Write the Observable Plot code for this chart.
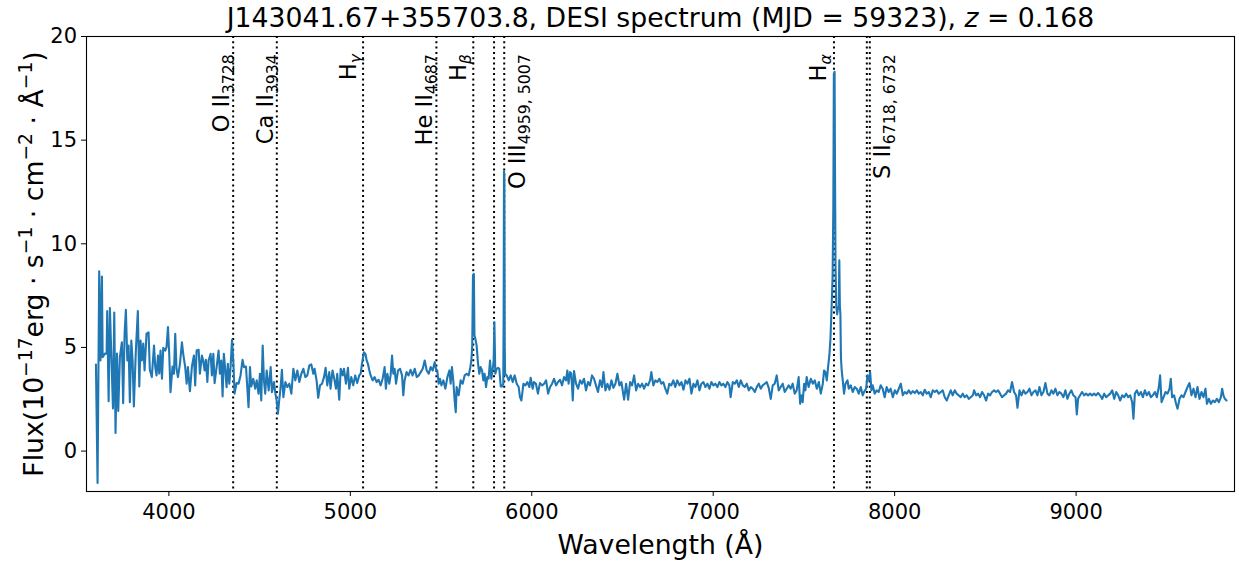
<!DOCTYPE html>
<html>
<head>
<meta charset="utf-8">
<script src="https://cdn.jsdelivr.net/npm/d3@7"></script>
<script src="https://cdn.jsdelivr.net/npm/@observablehq/plot@0.6"></script>
<style>
  html, body { margin: 0; padding: 0; background: #fff; }
  #chart { width: 1239px; height: 563px; }
</style>
</head>
<body>
<div id="chart"></div>
<script>
// ---------------- data ----------------
const wave = [
3598,3607,3616,3623,3631,3635,3647,3657,3660,3668,3675,3682,3692,3699,3706,3714,3721,3730,3741,3748,
3756,3763,3771,3778,3785,3793,3800,3807,3818,3829,3837,3844,3851,3859,3866,3877,3888,3895,3906,3918,
3925,3932,3940,3947,3954,3962,3969,3980,3987,3995,4002,4009,4020,4028,4035,4042,4050,4061,4072,4079,
4090,4098,4105,4116,4127,4138,4145,4153,4164,4171,4182,4189,4197,4204,4212,4219,4230,4237,4245,4252,
4263,4274,4281,4289,4296,4303,4311,4318,4325,4333,4340,4348,4355,4362,4373,4384,4395,4406,4414,4425,
4432,4439,4447,4454,4465,4476,4484,4494,4502,4509,4517,4524,4531,4539,4550,4561,4568,4579,4586,4594,
4601,4608,4616,4623,4631,4642,
4653,4664,4675,4686,4697,4708,4719,4730,4741,4752,4763,4774,4785,4796,4803,4814,4823,4833,4844,4855,
4864,4873,4884,4891,4902,4913,4921,4928,4939,4947,4958,4965,4976,4987,4994,5005,5016,5027,5038,5049,
5057,5064,5075,5084,5090,5097,5105,5112,5123,5134,5145,5156,5167,5178,5189,5196,5204,5215,5222,5230,
5237,5244,5252,5263,5274,5285,5292,5299,5310,5321,5332,5343,5355,5366,5377,5388,5399,5410,5421,5432,
5443,5454,5465,5472,5479,5487,5494,5502,5513,5524,5535,5546,5553,5560,5568,5575,5581,5586,5597,5608,
5619,5630,5641,5652,5660,5667,5672,5676,5681,5684,5689,5696,5704,5711,5718,5726,5733,5740,5748,5755,
5762,5770,5777,5784,5790,5794,5799,5807,5814,5821,5829,5836,5843,5845,5847,5849,5851,5853,5862,5873,
5884,5895,5906,5917,5928,5935,
5943,5954,5965,5976,5987,5994,6005,6012,6023,6034,6045,6057,6068,6079,6090,6101,6112,6123,6134,6145,
6156,6167,6178,6189,6196,6203,6211,6218,6226,6233,6244,6255,6266,6277,6288,6299,6310,6321,6332,6343,
6354,6365,6376,6387,6395,6406,6417,6428,6439,6450,6461,6472,6483,6494,6509,6520,6531,6542,6553,6564,
6575,6586,6597,6608,6619,6630,6641,6652,6659,6670,6681,6692,6703,6714,6725,6736,6747,6758,6769,6780,
6791,6802,6814,6825,6836,6847,6858,6869,6880,6891,6902,6913,6924,6935,6946,6957,6968,6979,6990,7001,
7012,7023,7034,7045,7056,7067,7078,7089,7096,7108,7119,7130,7141,7152,7163,7174,7185,7196,7207,7218,
7229,7240,7251,7262,7273,7284,7295,7306,7317,7328,7339,7350,7361,7372,7383,7394,7405,7416,7427,7438,
7449,7460,7471,7479,7486,7493,7501,7508,7515,7526,7538,7549,7560,7571,7582,7593,7604,
7611,7618,7626,7633,7640,7646,7652,7658,7662,7665,7669,7671,7674,7678,7683,7688,7692,7695,7698,7701,
7704,7708,
7714,7721,7729,7740,7747,7758,7769,7780,7791,7802,7813,7824,7831,7843,7850,7857,7865,7872,7879,7890,
7901,7912,7923,7934,7945,7956,7967,7978,7990,8001,8012,8023,8034,8045,8056,8067,8078,8089,8100,8111,
8122,8133,8144,8155,8166,8177,8188,8199,8210,8221,8232,8243,8254,8265,8276,8287,8298,8309,8320,8331,
8342,8353,8364,8375,8386,8397,8408,8419,8431,8438,8449,8460,8471,8482,8493,8504,8515,8526,8537,8548,
8559,8570,8581,8592,8603,8614,8625,8636,8647,8658,8669,8677,8688,8699,8710,8721,8732,8743,8754,8765,
8776,8787,8798,8809,8820,8831,8842,8853,8864,8875,8886,8897,8908,8919,8930,8941,8952,8963,8974,8985,
8997,9004,9011,9022,9033,9044,9055,9066,9077,9088,9099,9110,9121,9132,9144,9155,9166,9177,9188,9199,
9210,9221,9232,9243,9254,9265,9276,9287,9298,9309,9316,9324,9335,9346,9357,9368,9379,9390,9401,9412,
9423,9434,9445,9456,9463,9471,9482,9493,9504,9515,9522,9529,9540,9551,9559,9570,9581,9592,9603,9614,
9625,9636,9647,9658,9669,9680,9691,9702,9713,9721,9732,9743,9754,9765,9776,9787,9798,9805,9812,9820,
9829
];
const flux = [
4.18,-1.54,8.67,4.37,8.42,4.53,4.70,4.70,6.75,2.41,6.90,4.85,2.06,6.68,0.87,4.70,1.93,4.53,5.25,2.31,
5.67,6.81,4.37,5.09,2.36,5.33,4.37,2.15,4.85,6.75,3.12,5.33,4.37,5.19,3.89,5.67,5.73,3.93,3.57,5.09,
4.05,3.65,4.61,3.74,4.85,3.49,4.98,4.85,5.01,5.98,4.66,2.84,4.08,3.73,5.66,3.97,3.57,4.21,5.25,4.69,
4.05,3.25,4.05,2.89,4.08,4.61,3.17,4.85,4.89,3.73,4.61,4.37,3.89,4.40,3.33,4.37,4.69,3.65,4.69,3.28,
4.05,4.85,3.73,4.37,2.64,4.69,3.89,3.08,4.21,3.25,4.05,5.37,4.37,2.77,3.28,3.25,3.65,4.40,4.05,4.08,
3.08,2.12,4.05,3.12,3.49,3.01,3.41,2.77,3.73,2.44,5.09,3.41,2.77,3.89,2.93,4.05,2.84,3.33,2.84,2.44,
1.80,2.44,3.08,3.92,2.60,3.33,
3.09,3.25,2.77,3.97,3.41,3.89,3.33,3.73,3.97,3.57,3.65,4.13,4.18,3.73,3.97,3.41,2.57,3.17,3.25,3.57,
4.02,3.17,3.81,3.01,3.89,3.41,3.01,3.73,2.48,3.97,3.65,3.97,3.25,4.02,3.01,3.57,3.17,3.65,3.28,3.65,
3.73,4.21,4.77,4.66,4.37,4.21,3.89,3.65,3.41,3.57,3.33,3.44,3.17,3.49,4.05,3.01,3.73,3.25,3.65,4.61,
3.73,3.97,3.25,3.89,3.97,3.65,2.69,3.41,3.81,3.65,3.92,3.65,3.97,3.57,3.65,3.81,3.97,4.37,3.89,3.73,
4.05,3.89,4.29,3.97,3.89,3.25,3.49,3.17,3.41,3.01,3.57,3.89,3.25,4.05,3.33,2.44,1.88,3.09,2.69,3.41,
3.25,3.65,3.73,3.65,3.97,4.37,5.10,8.47,8.55,5.60,5.42,5.10,4.21,3.73,4.05,3.89,3.41,3.73,3.09,3.57,
3.49,4.37,3.49,3.89,4.37,6.22,3.73,3.97,4.02,3.97,3.12,3.12,3.25,6.50,13.50,13.30,5.00,3.73,3.65,3.41,
3.65,3.33,3.65,3.25,3.09,2.60,
2.44,3.25,3.17,3.33,3.09,3.54,3.01,3.33,3.25,2.77,3.28,3.17,3.25,3.41,2.77,3.09,3.25,3.49,3.17,3.33,
3.44,3.17,3.57,3.41,3.89,3.25,3.81,3.73,2.44,3.86,3.25,3.01,3.41,3.25,3.49,2.93,3.33,3.17,3.65,3.49,
3.17,2.85,3.41,3.09,3.81,2.93,3.25,2.96,3.41,3.05,3.25,3.73,3.17,3.33,2.48,3.25,2.48,3.33,3.17,3.65,
2.93,3.25,3.09,3.25,3.01,3.25,3.17,3.41,3.81,3.17,3.41,3.33,3.49,3.25,3.33,3.01,2.77,3.25,3.17,3.41,
3.09,3.41,3.17,3.33,2.96,3.41,3.25,3.49,2.77,3.25,3.09,3.41,2.93,3.25,3.33,3.09,3.25,3.01,3.33,3.17,
3.25,3.09,3.33,3.17,3.25,3.09,3.33,3.17,2.60,3.33,3.25,3.41,3.09,3.41,3.17,3.09,3.25,2.93,3.09,3.01,
2.85,3.09,3.25,3.01,3.17,3.25,3.33,3.05,2.52,3.17,3.25,3.65,2.93,3.09,3.25,2.85,3.01,3.17,3.01,3.25,
2.77,2.93,3.57,2.28,2.69,2.36,3.25,2.93,3.57,3.09,3.49,3.25,3.41,3.01,3.33,2.77,3.25,
3.89,3.81,3.41,4.05,4.60,5.40,6.80,8.40,11.80,18.20,18.30,14.00,9.00,7.00,6.60,6.90,7.00,9.20,7.00,6.60,
4.50,3.90,
3.41,2.77,3.25,3.41,3.01,3.17,2.85,3.09,3.01,2.77,3.09,2.69,2.85,3.01,3.65,3.41,3.81,2.93,3.17,2.77,
2.93,2.85,3.17,3.01,2.60,3.09,2.85,3.01,2.60,2.93,2.77,3.01,3.25,2.69,2.85,2.77,2.93,2.77,2.89,2.80,
2.93,2.77,2.85,2.69,2.96,2.77,2.85,2.60,2.93,2.85,2.93,2.77,2.85,2.93,2.60,2.44,2.69,2.93,2.69,2.93,
2.77,2.69,2.60,2.77,2.60,2.69,2.52,2.60,2.69,2.93,2.69,2.77,2.60,2.85,2.69,2.44,2.77,2.69,2.85,2.93,
2.85,2.93,2.77,2.60,2.69,2.77,2.93,2.85,3.33,2.85,2.69,2.09,2.93,2.69,2.93,2.77,2.85,3.01,2.69,2.85,
2.93,2.69,3.09,2.69,2.85,3.28,2.77,2.69,2.93,2.77,3.01,2.69,2.85,2.77,2.60,2.93,2.52,2.77,2.93,2.69,
2.60,1.77,2.52,2.69,2.85,2.69,2.77,2.69,2.77,2.69,2.77,2.69,2.80,2.69,2.52,2.77,2.60,2.69,2.77,2.93,
2.52,2.85,2.69,2.44,2.69,2.60,2.77,2.60,2.69,2.36,1.56,2.77,2.93,2.69,2.85,2.60,2.93,2.69,2.85,2.60,
2.69,2.85,2.60,3.09,3.65,2.36,2.60,2.85,2.77,3.01,3.49,2.60,2.69,2.28,2.04,2.52,2.69,2.60,2.85,3.09,
3.28,2.69,3.01,2.60,3.09,2.52,2.85,2.60,3.01,2.28,2.52,2.28,2.44,2.36,2.52,2.36,2.60,3.01,2.69,2.52,
2.44
];

// emission / absorption line markers (rest wavelengths) and redshift
const redshift = 0.168;
const markerRest = [3728, 3934, 4341, 4687, 4861, 4959, 5007, 6563, 6718, 6732];
// line labels: text (with _{sub} markup), rest wavelength they sit at, side of the line
const labelText = ["O II_{3728}", "Ca II_{3934}", "H_{γ}", "He II_{4687}", "H_{β}", "O III_{4959, 5007}", "H_{α}", "S II_{6718, 6732}"];
const labelRest = [3728, 3934, 4341, 4687, 4861, 5007, 6563, 6732];
const labelSide = ["left", "left", "left", "left", "left", "right", "left", "right"];
const labelFlux = 19.15;

const xTicks = [4000, 5000, 6000, 7000, 8000, 9000];
const yTicks = [0, 5, 10, 15, 20];
const xDomain = [3546, 9873];
const yDomain = [-1.95, 20];

const titleText = "J143041.67+355703.8, DESI spectrum (MJD = 59323), ~{z} = 0.168";
const xLabel = "Wavelength (Å)";
const yLabel = "Flux(10^{−17}erg · s^{−1} · cm^{−2} · Å^{−1})";

// ---------------- build tables ----------------
const spectrum = wave.map((w, i) => ({w, f: flux[i]}));
const markers = markerRest.map(r => ({obs: r * (1 + redshift)}));

function parseRich(s) {
  const parts = []; const re = /([_^~])\{([^}]*)\}/g; let last = 0, m;
  while ((m = re.exec(s))) {
    if (m.index > last) parts.push({t: s.slice(last, m.index), k: "n"});
    parts.push({t: m[2], k: m[1] === "_" ? "sub" : m[1] === "^" ? "sup" : "it"});
    last = re.lastIndex;
  }
  if (last < s.length) parts.push({t: s.slice(last), k: "n"});
  return parts;
}
const plain = s => parseRich(s).map(p => p.t).join("");

const labels = labelText.map((t, i) => ({
  rich: t, text: plain(t), obs: labelRest[i] * (1 + redshift), side: labelSide[i],
  greek: /[α-ω]/.test(t)
}));

const LBL = 22.5, TICK = 21, AX = 26.7, TITLE = 26.7;

const plot = Plot.plot({
  width: 1239,
  height: 563,
  marginLeft: 86,
  marginRight: 5,
  marginTop: 36,
  marginBottom: 72,
  style: {fontFamily: "'DejaVu Sans', sans-serif", color: "black", background: "white", overflow: "visible"},
  x: {domain: xDomain},
  y: {domain: yDomain},
  marks: [
    Plot.ruleX(markers, {x: "obs", stroke: "black", strokeWidth: 2, strokeDasharray: "2,3.3"}),
    Plot.line(spectrum, {x: "w", y: "f", stroke: "#1f77b4", strokeWidth: 2.1, strokeLinejoin: "round"}),
    Plot.frame({stroke: "black", strokeWidth: 1.1}),
    Plot.axisX({ticks: xTicks, tickSize: 5, tickPadding: 7.5, fontSize: TICK, tickFormat: d => String(d), label: null}),
    Plot.axisY({ticks: yTicks, tickSize: 5, tickPadding: 4.5, fontSize: TICK, tickFormat: d => String(d), label: null}),
    // line labels, left of the line (non-greek subscripts)
    Plot.text(labels.filter(d => d.side === "left" && !d.greek), {x: "obs", y: () => labelFlux, text: "text", rotate: -90, textAnchor: "end", lineAnchor: "bottom", dx: -4, fontSize: LBL, fill: "black"}),
    // left of the line (greek subscripts)
    Plot.text(labels.filter(d => d.side === "left" && d.greek), {x: "obs", y: () => labelFlux, text: "text", rotate: -90, textAnchor: "end", lineAnchor: "bottom", dx: -7.5, fontSize: LBL, fill: "black"}),
    // right of the line
    Plot.text(labels.filter(d => d.side === "right"), {x: "obs", y: () => labelFlux, text: "text", rotate: -90, textAnchor: "end", lineAnchor: "top", dx: 4.5, fontSize: LBL, fill: "black"}),
    // title and axis labels
    Plot.text([plain(titleText)], {frameAnchor: "top", dy: -10, lineAnchor: "bottom", textAnchor: "middle", fontSize: TITLE, fill: "black"}),
    Plot.text([xLabel], {frameAnchor: "bottom", dy: 62, lineAnchor: "bottom", textAnchor: "middle", fontSize: AX, fill: "black"}),
    Plot.text([plain(yLabel)], {frameAnchor: "left", dx: -44, rotate: -90, lineAnchor: "bottom", textAnchor: "middle", fontSize: AX, fill: "black"})
  ]
});

// rich text: replace plain strings by tspans with sub/superscripts and italics
const richDefs = [
  ...labels.map(d => ({rich: d.rich, fs: LBL})),
  {rich: titleText, fs: TITLE},
  {rich: yLabel, fs: AX}
];
const richMap = new Map(richDefs.map(d => [plain(d.rich), d]));
const NS = "http://www.w3.org/2000/svg";
d3.select(plot).selectAll("text").each(function() {
  const def = richMap.get(this.textContent);
  if (!def) return;
  const parts = parseRich(def.rich);
  this.textContent = "";
  for (const p of parts) {
    const ts = document.createElementNS(NS, "tspan");
    ts.textContent = p.t;
    if (p.k === "sub" || p.k === "sup") {
      ts.setAttribute("font-size", (def.fs * 0.7).toFixed(2));
      ts.setAttribute("baseline-shift", (p.k === "sub" ? -0.2 * def.fs : 0.42 * def.fs).toFixed(2) + "px");
      if (/[α-ω]/.test(p.t)) ts.setAttribute("font-style", "italic");
    }
    if (p.k === "it") ts.setAttribute("font-style", "italic");
    this.appendChild(ts);
  }
});

document.getElementById("chart").appendChild(plot);
</script>
</body>
</html>
